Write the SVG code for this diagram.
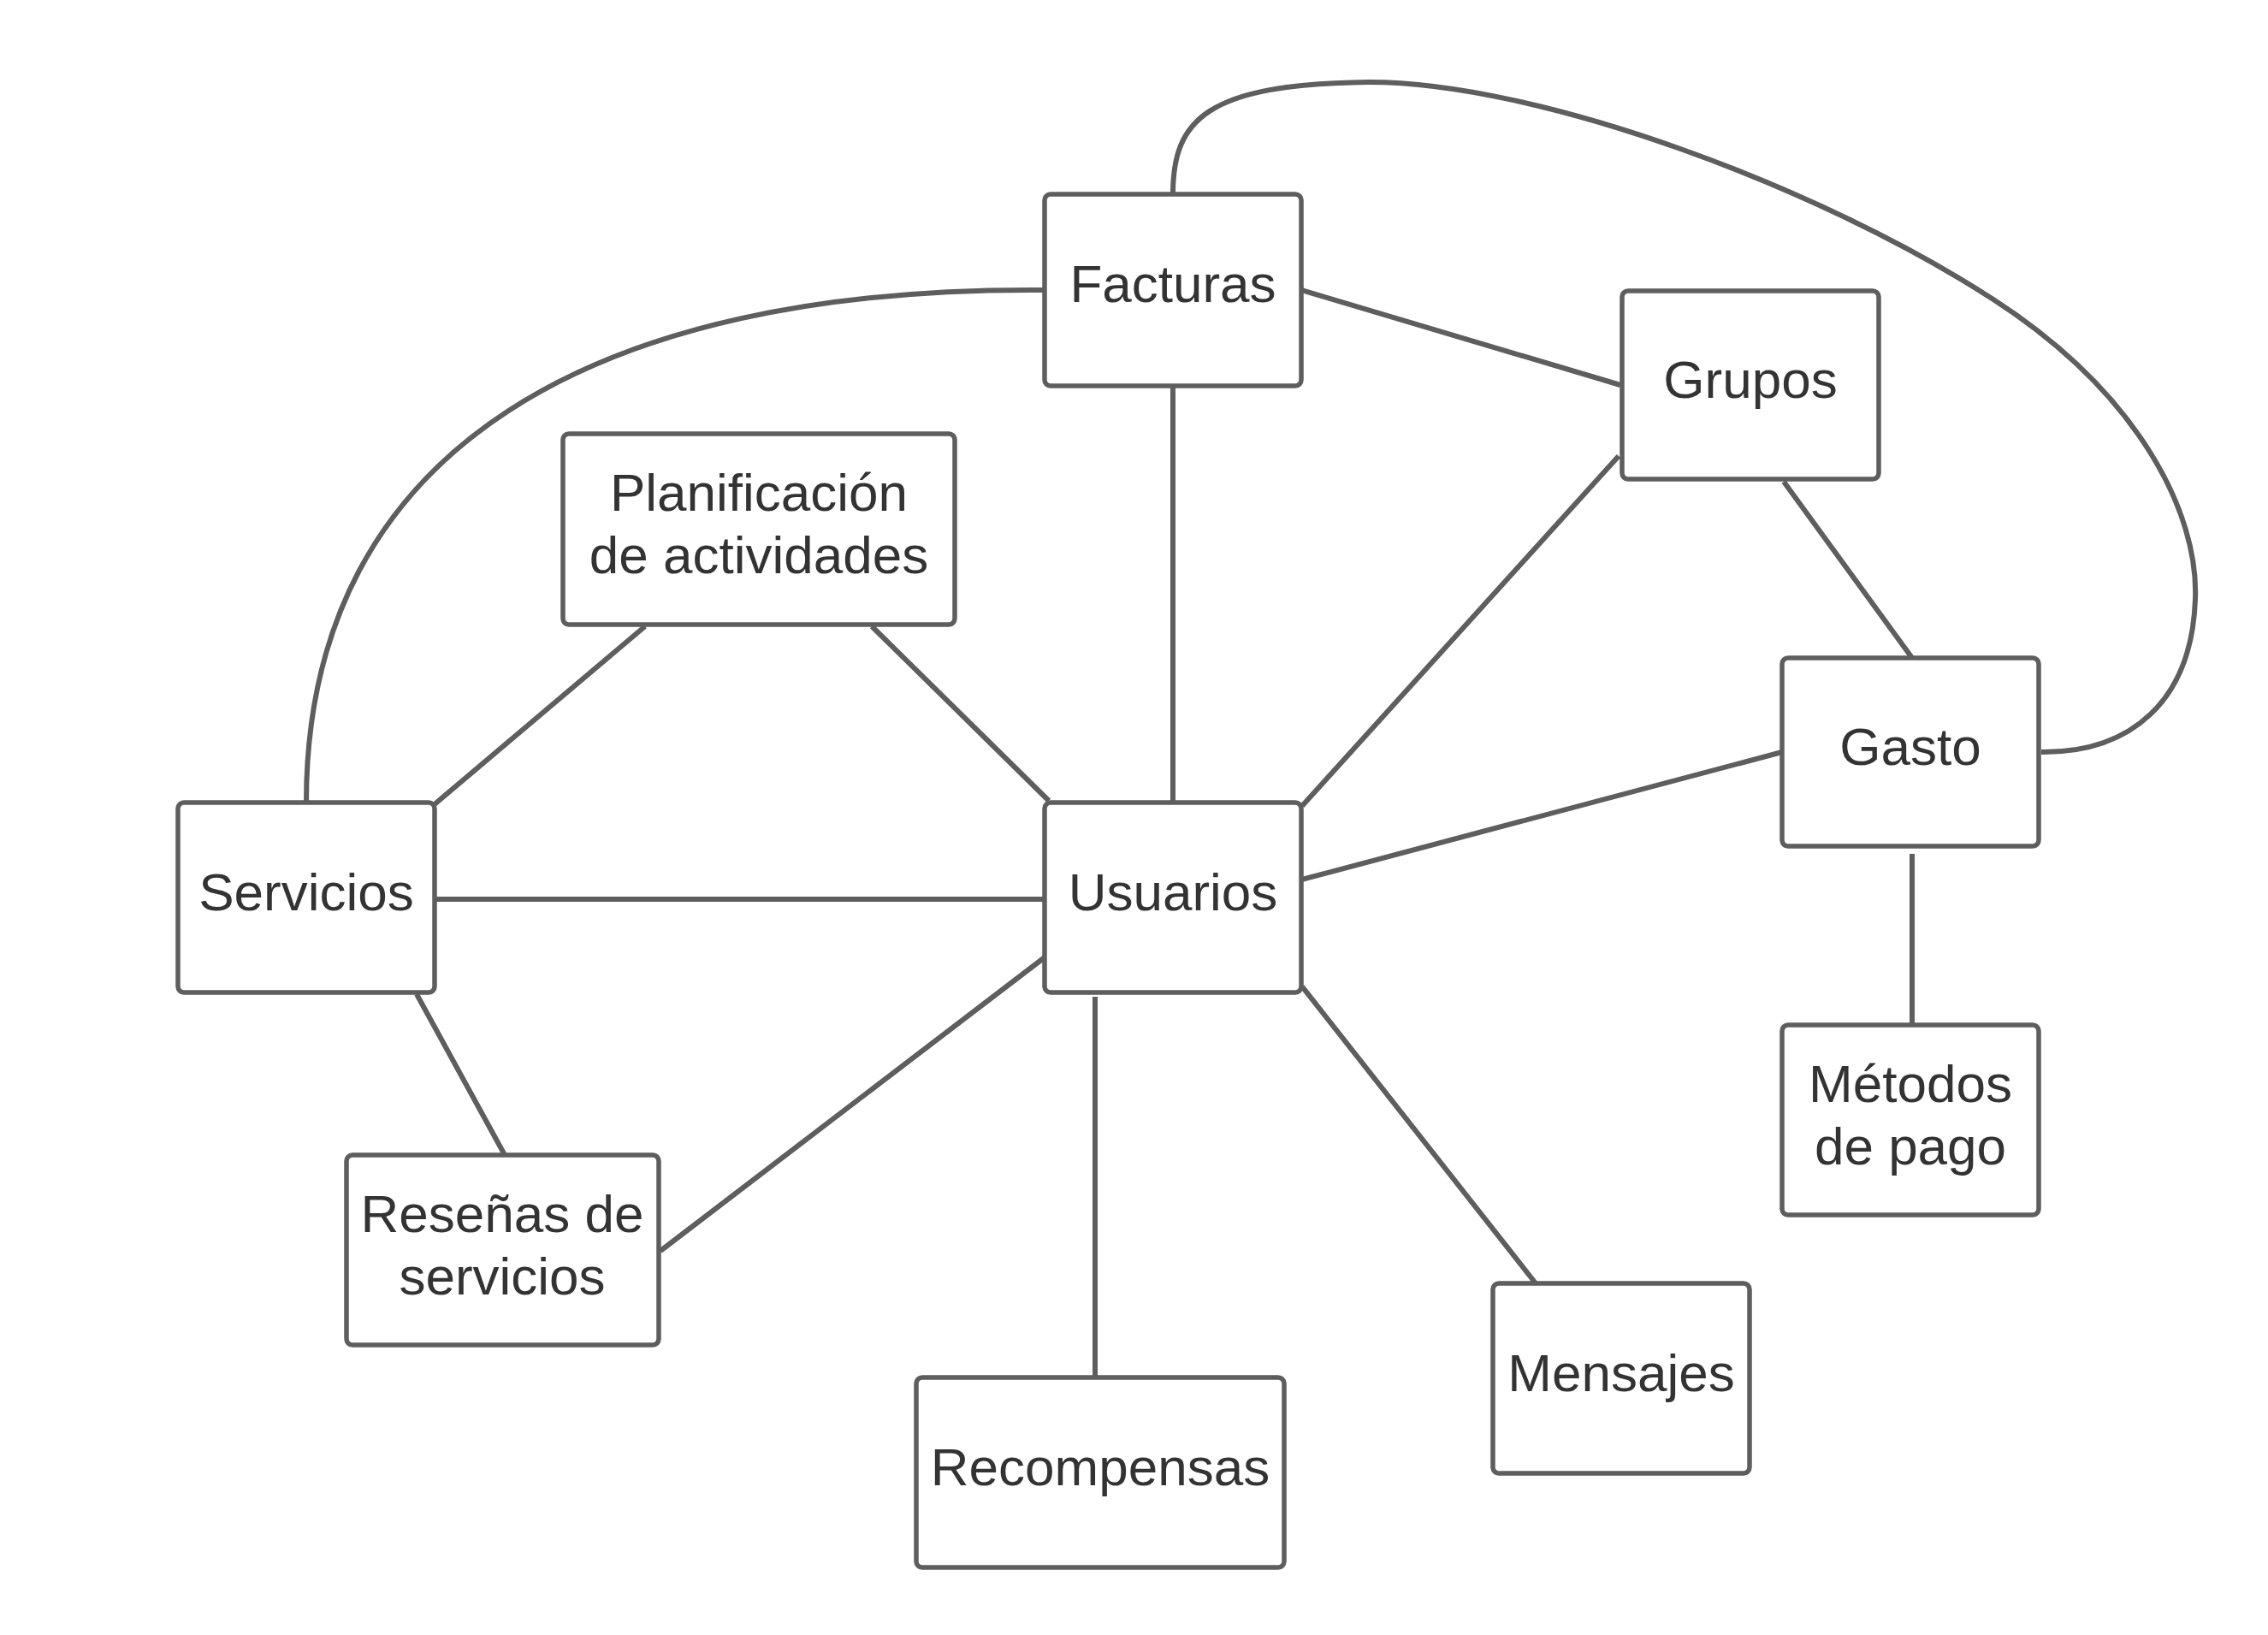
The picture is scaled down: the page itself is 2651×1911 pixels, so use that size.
<svg xmlns="http://www.w3.org/2000/svg" width="2651" height="1911" viewBox="0 0 2651 1911">
<style>
.box{fill:#fff;stroke:#5e5e5e;stroke-width:5.5}
.lbl{font-family:"Liberation Sans",Arial,sans-serif;font-size:62px;fill:#333;text-anchor:middle}
.c{fill:none;stroke:#5e5e5e;stroke-width:6}
</style>
<rect width="2651" height="1911" fill="#fff"/>
<g id="connectors">
<path class="c" d="M1371 227 C1371 140 1410 98 1600 96 C1800 96 2130 220 2330 350 C2500 460 2570 600 2566 700 C2562 820 2490 880 2386 879"/>
<path class="c" d="M1221 339 C700 335 358 520 358 938"/>
<line class="c" x1="1521" y1="339" x2="1894" y2="450"/>
<line class="c" x1="1371" y1="452" x2="1371" y2="938"/>
<line class="c" x1="1892" y1="533" x2="1522" y2="942"/>
<line class="c" x1="2085" y1="563" x2="2235" y2="769"/>
<line class="c" x1="2083" y1="879" x2="1522" y2="1028"/>
<line class="c" x1="2235" y1="998" x2="2235" y2="1198"/>
<line class="c" x1="754" y1="732" x2="508" y2="940"/>
<line class="c" x1="1019" y1="732" x2="1226" y2="936"/>
<line class="c" x1="508" y1="1051" x2="1221" y2="1051"/>
<line class="c" x1="487" y1="1162" x2="590" y2="1350"/>
<line class="c" x1="1221" y1="1119" x2="772" y2="1462"/>
<line class="c" x1="1280" y1="1165" x2="1280" y2="1610"/>
<line class="c" x1="1522" y1="1153" x2="1795" y2="1500"/>
</g>
<g id="facturas"><rect class="box" x="1221" y="227" width="300" height="224" rx="7"/><text class="lbl" x="1371" y="353">Facturas</text></g>
<g id="grupos"><rect class="box" x="1896" y="340" width="300" height="220" rx="7"/><text class="lbl" x="2046" y="465">Grupos</text></g>
<g id="planificacion"><rect class="box" x="658" y="507" width="458" height="223" rx="7"/><text class="lbl" x="887" y="597">Planificación</text><text class="lbl" x="887" y="670">de actividades</text></g>
<g id="gasto"><rect class="box" x="2083" y="769" width="300" height="220" rx="7"/><text class="lbl" x="2233" y="894">Gasto</text></g>
<g id="servicios"><rect class="box" x="208" y="938" width="300" height="222" rx="7"/><text class="lbl" x="358" y="1064">Servicios</text></g>
<g id="usuarios"><rect class="box" x="1221" y="938" width="300" height="222" rx="7"/><text class="lbl" x="1371" y="1064">Usuarios</text></g>
<g id="metodos"><rect class="box" x="2083" y="1198" width="300" height="222" rx="7"/><text class="lbl" x="2233" y="1288">Métodos</text><text class="lbl" x="2233" y="1361">de pago</text></g>
<g id="resenas"><rect class="box" x="405" y="1350" width="365" height="222" rx="7"/><text class="lbl" x="587" y="1440">Reseñas de</text><text class="lbl" x="587" y="1513">servicios</text></g>
<g id="mensajes"><rect class="box" x="1745" y="1500" width="300" height="222" rx="7"/><text class="lbl" x="1895" y="1626">Mensajes</text></g>
<g id="recompensas"><rect class="box" x="1071" y="1610" width="430" height="222" rx="7"/><text class="lbl" x="1286" y="1736">Recompensas</text></g>
</svg>
